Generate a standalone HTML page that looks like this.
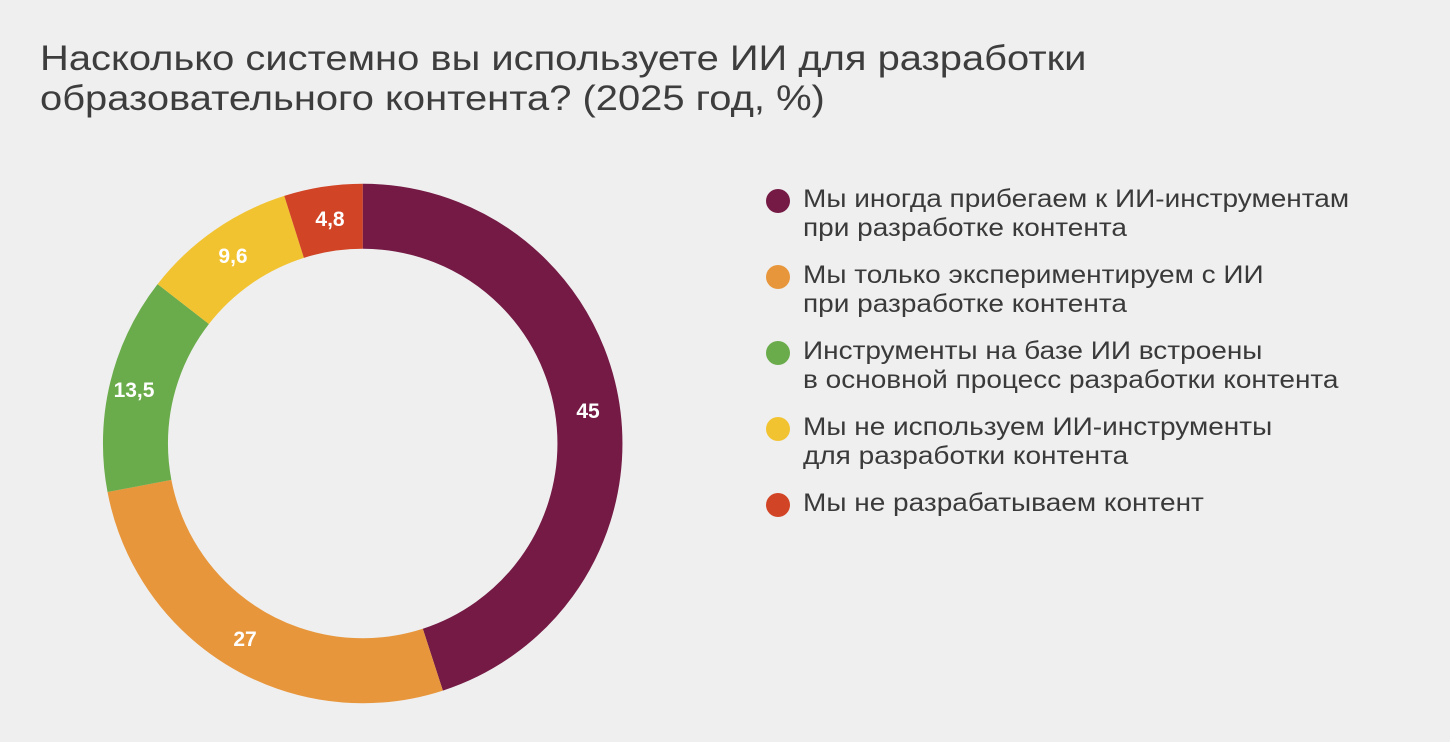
<!DOCTYPE html>
<html><head><meta charset="utf-8"><style>
body{margin:0;width:1450px;height:742px;background:#efefef;overflow:hidden;font-family:"Liberation Sans",Arial,sans-serif;}
.t{position:absolute;left:40px;top:39px;font-size:35px;line-height:40px;color:#3d3d3d;transform:scaleX(1.14);transform-origin:0 0;white-space:nowrap;}
.lg{position:absolute;left:766px;font-size:25px;line-height:29px;color:#3a3a3a;}
.lg span{position:absolute;left:0;top:4px;width:24px;height:24px;border-radius:50%;}
.lg div{margin-left:37px;white-space:nowrap;transform:scaleX(1.12);transform-origin:0 0;}
</style></head><body>
<div class="t">Насколько системно вы используете ИИ для разработки<br>образовательного контента? (2025 год, %)</div>
<svg width="1450" height="742" style="position:absolute;left:0;top:0">
<g transform="rotate(-90 362.7 443.5)" fill="none" stroke-width="65">
<circle cx="362.7" cy="443.5" r="227.25" stroke="#741a45" stroke-dasharray="642.5 2000" stroke-dashoffset="0"/>
<circle cx="362.7" cy="443.5" r="227.25" stroke="#e8963b" stroke-dasharray="385.5 2000" stroke-dashoffset="-642.5"/>
<circle cx="362.7" cy="443.5" r="227.25" stroke="#6aab4b" stroke-dasharray="192.8 2000" stroke-dashoffset="-1028"/>
<circle cx="362.7" cy="443.5" r="227.25" stroke="#f2c331" stroke-dasharray="137.1 2000" stroke-dashoffset="-1220.8"/>
<circle cx="362.7" cy="443.5" r="227.25" stroke="#d14425" stroke-dasharray="70 2000" stroke-dashoffset="-1357.9"/>
</g>
<g fill="#fff" font-weight="bold" font-size="21" text-anchor="middle" font-family="Liberation Sans,Arial,sans-serif">
<text x="588" y="418">45</text>
<text x="245" y="646">27</text>
<text x="134" y="397">13,5</text>
<text x="233" y="263">9,6</text>
<text x="330" y="226">4,8</text>
</g>
</svg>
<div class="lg" style="top:185px"><span style="background:#741a45"></span><div>Мы иногда прибегаем к ИИ-инструментам<br>при разработке контента</div></div>
<div class="lg" style="top:261px"><span style="background:#e8963b"></span><div>Мы только экспериментируем с ИИ<br>при разработке контента</div></div>
<div class="lg" style="top:337px"><span style="background:#6aab4b"></span><div>Инструменты на базе ИИ встроены<br>в основной процесс разработки контента</div></div>
<div class="lg" style="top:413px"><span style="background:#f2c331"></span><div>Мы не используем ИИ-инструменты<br>для разработки контента</div></div>
<div class="lg" style="top:489px"><span style="background:#d14425"></span><div>Мы не разрабатываем контент</div></div>
</body></html>
